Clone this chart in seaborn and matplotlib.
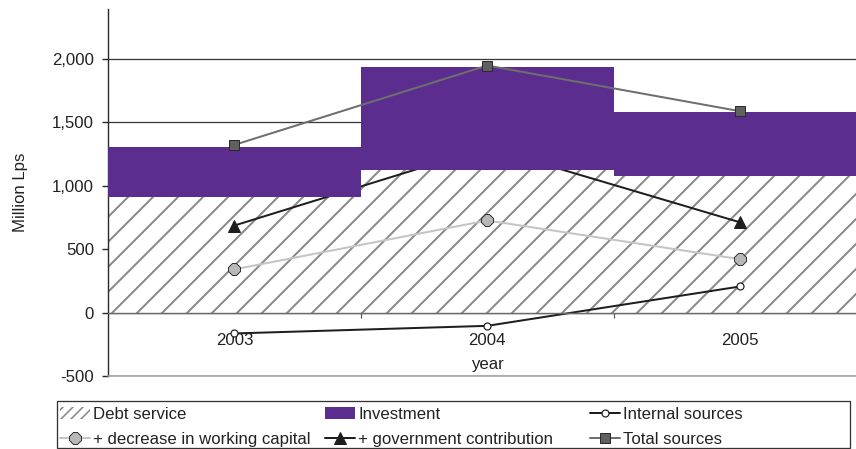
import numpy as np
import pandas as pd
import matplotlib
matplotlib.use("Agg")
import matplotlib.pyplot as plt
from matplotlib.patches import Patch, Rectangle
from matplotlib.lines import Line2D
from matplotlib.ticker import FuncFormatter
import seaborn as sns

# Sources and uses of funds, million Lps
years = ["2003", "2004", "2005"]
debt_service = [910, 1125, 1075]
investment = [395, 810, 505]
internal_sources = [-165, -105, 205]
working_capital = [340, 725, 420]
government = [685, 1300, 710]
total_sources = [1320, 1945, 1585]

DPI = 150
W, H = 856, 449
PX = 72 / DPI  # points per pixel

sns.set_style("white")
plt.rcParams["font.family"] = ["Liberation Sans", "DejaVu Sans"]
plt.rcParams["hatch.linewidth"] = 2.0 * PX
FPX = 16.8
FS = FPX * PX
TXT = "#222222"
PURPLE = "#5B2D8E"

fig = plt.figure(figsize=(W / DPI, H / DPI), dpi=DPI)
ax = fig.add_axes([108 / W, 73 / H, 758.5 / W, 367 / H])

pos = np.arange(len(years))
df = pd.DataFrame({"year": years, "debt": debt_service})

# stacked columns: hatched debt service below, investment on top
sns.barplot(data=df, x="year", y="debt", width=1.0, color="white",
            saturation=1, edgecolor="#8a8a8a", linewidth=0, hatch="//",
            errorbar=None, ax=ax, zorder=1)
ax.bar(pos, investment, bottom=debt_service, width=1.0, color=PURPLE,
       linewidth=0, zorder=3)

line_styles = {
    "Internal sources": dict(color="#1e1e1e", lw=2.0 * PX, marker="o",
                             ms=7 * PX, mfc="white", mec="#1e1e1e",
                             mew=1.2 * PX),
    "+ decrease in working capital": dict(color="#c4c4c4", lw=2.0 * PX,
                                          marker="8", ms=12 * PX,
                                          mfc="#b8b8b8", mec="#333333",
                                          mew=1.0 * PX),
    "+ government contribution": dict(color="#1e1e1e", lw=2.0 * PX,
                                      marker="^", ms=12 * PX,
                                      mfc="#1e1e1e", mec="#1e1e1e",
                                      mew=1.0 * PX),
    "Total sources": dict(color="#6e6e6e", lw=2.0 * PX, marker="s",
                          ms=10 * PX, mfc="#606060", mec="#2a2a2a",
                          mew=1.0 * PX),
}
series = {
    "Internal sources": (internal_sources, 2),
    "+ decrease in working capital": (working_capital, 2),
    "+ government contribution": (government, 2),
    "Total sources": (total_sources, 4),
}
for name, (vals, z) in series.items():
    st = line_styles[name]
    sns.lineplot(x=pos, y=vals, ax=ax, color=st["color"], linewidth=st["lw"],
                 marker=st["marker"], markersize=st["ms"],
                 markerfacecolor=st["mfc"], markeredgecolor=st["mec"],
                 markeredgewidth=st["mew"], zorder=z, legend=False)

ax.set_xlim(-0.5, 2.5)
ax.set_ylim(-500, 2390)
ax.set_yticks([-500, 0, 500, 1000, 1500, 2000])
ax.yaxis.set_major_formatter(FuncFormatter(lambda v, _: f"{v:,.0f}"))
ax.yaxis.grid(True, color="#3a3a3a", lw=1.3 * PX)
ax.xaxis.grid(False)
ax.set_axisbelow(True)

for s in ("top", "right"):
    ax.spines[s].set_visible(False)
ax.spines["left"].set_color("#2a2a2a")
ax.spines["left"].set_linewidth(1.4 * PX)
ax.spines["bottom"].set_position(("data", 0))
ax.spines["bottom"].set_color("#6a6a6a")
ax.spines["bottom"].set_linewidth(1.4 * PX)
ax.axhline(-500, color="#a0a0a0", lw=1.6 * PX, zorder=5, clip_on=False)

ax.set_xticks([0.5, 1.5])
ax.set_xticklabels([])
ax.set_xticks(pos, minor=True)
ax.set_xticklabels(years, minor=True)
ax.tick_params(axis="x", which="major", direction="out", length=5 * PX,
               width=1.2 * PX, color="#555555", bottom=True)
ax.tick_params(axis="x", which="minor", length=0, pad=20.5 * PX,
               labelsize=FS, labelcolor=TXT, bottom=True)
ax.tick_params(axis="y", direction="out", length=6 * PX, width=1.4 * PX,
               color="#2a2a2a", pad=8 * PX, labelsize=FS, labelcolor=TXT,
               left=True)

ax.set_xlabel("year", fontsize=FS, color=TXT)
ax.xaxis.set_label_coords(0.5, 0.051)
ax.set_ylabel("Million Lps", fontsize=FS, color=TXT)
ax.yaxis.set_label_coords(-0.1055, 0.5)


def line_handle(name):
    st = line_styles[name]
    return Line2D([], [], color=st["color"], lw=st["lw"], marker=st["marker"],
                  ms=st["ms"], mfc=st["mfc"], mec=st["mec"], mew=st["mew"])


plt.rcParams["hatch.linewidth"] = 1.6 * PX
debt_handle = Patch(facecolor="white", edgecolor="#8a8a8a", linewidth=0,
                    hatch="/////")
inv_handle = Patch(facecolor=PURPLE, linewidth=0)

columns = [
    (60, [debt_handle, line_handle("+ decrease in working capital")],
     ["Debt service", "+ decrease in working capital"]),
    (325, [inv_handle, line_handle("+ government contribution")],
     ["Investment", "+ government contribution"]),
    (590, [line_handle("Internal sources"), line_handle("Total sources")],
     ["Internal sources", "Total sources"]),
]
for x0, hs, ls in columns:
    fig.legend(hs, ls, loc="upper left", bbox_to_anchor=(x0 / W, 1 - 407 / H),
               frameon=False, fontsize=FS, handlelength=30 / FPX,
               handletextpad=3 / FPX, borderpad=0, borderaxespad=0,
               labelspacing=0.6, handleheight=0.7, labelcolor=TXT)

fig.add_artist(Rectangle((57 / W, 1 / H), 793 / W, 47 / H,
                         transform=fig.transFigure, fill=False,
                         edgecolor="#333333", lw=1.3 * PX))

fig.savefig("out.png", dpi=DPI)
